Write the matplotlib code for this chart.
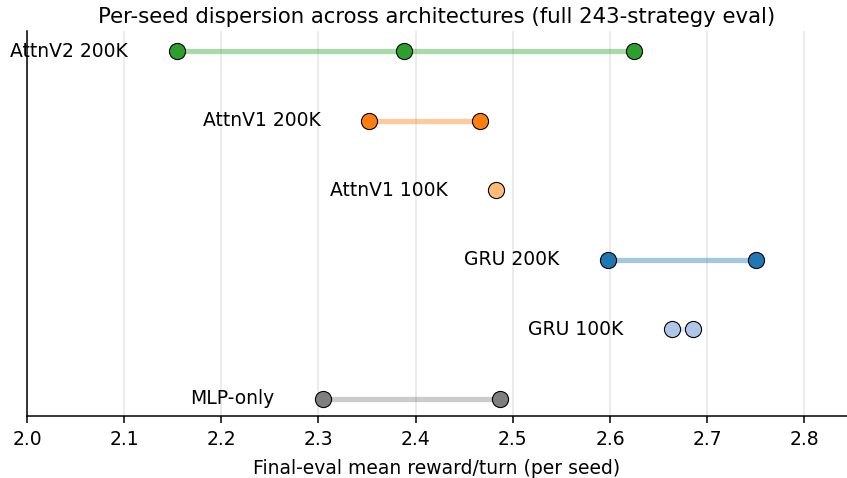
import matplotlib
matplotlib.use('Agg')
import matplotlib.pyplot as plt

# per-seed final eval values, bottom row first
labels = ['MLP-only', 'GRU 100K', 'GRU 200K', 'AttnV1 100K', 'AttnV1 200K', 'AttnV2 200K']
seeds = [
    [2.305, 2.487],
    [2.664, 2.685],
    [2.598, 2.750],
    [2.483],
    [2.352, 2.466],
    [2.154, 2.388, 2.625],
]
colors = ['#7f7f7f', '#aec7e8', '#1f77b4', '#ffbb78', '#ff7f0e', '#2ca02c']
xticks = [2.0, 2.1, 2.2, 2.3, 2.4, 2.5, 2.6, 2.7, 2.8]

fig = plt.figure(figsize=(8.47, 4.78), dpi=100)
ax = fig.add_axes([0.0319, 0.1297, 0.9681, 0.8054])

for i, (name, vals, c) in enumerate(zip(labels, seeds, colors)):
    if len(vals) > 1:
        ax.plot([min(vals), max(vals)], [i, i], color=c, alpha=0.4, lw=3.8, zorder=2,
                solid_capstyle='butt')
    ax.scatter(vals, [i] * len(vals), s=135, color=c, edgecolor='black', linewidth=0.8, zorder=3)
    ax.text(min(vals) - 0.05, i, name, ha='right', va='center', fontsize=13.5)

ax.set_xlim(2.0, 2.844)
ax.set_ylim(-0.245, 5.29)
ax.set_xticks(xticks)
ax.tick_params(axis='x', labelsize=13.5, length=5, width=1.1, pad=5)
ax.set_yticks([])
ax.grid(axis='x', color='#e6e6e6', lw=1.1)
ax.set_axisbelow(True)
ax.spines['top'].set_visible(False)
ax.spines['right'].set_visible(False)
ax.spines['left'].set_linewidth(1.1)
ax.spines['bottom'].set_linewidth(1.1)
ax.set_xlabel('Final-eval mean reward/turn (per seed)', fontsize=13.5, labelpad=7)
ax.set_title('Per-seed dispersion across architectures (full 243-strategy eval)', fontsize=15.3)

fig.savefig('out.png', dpi=100)
